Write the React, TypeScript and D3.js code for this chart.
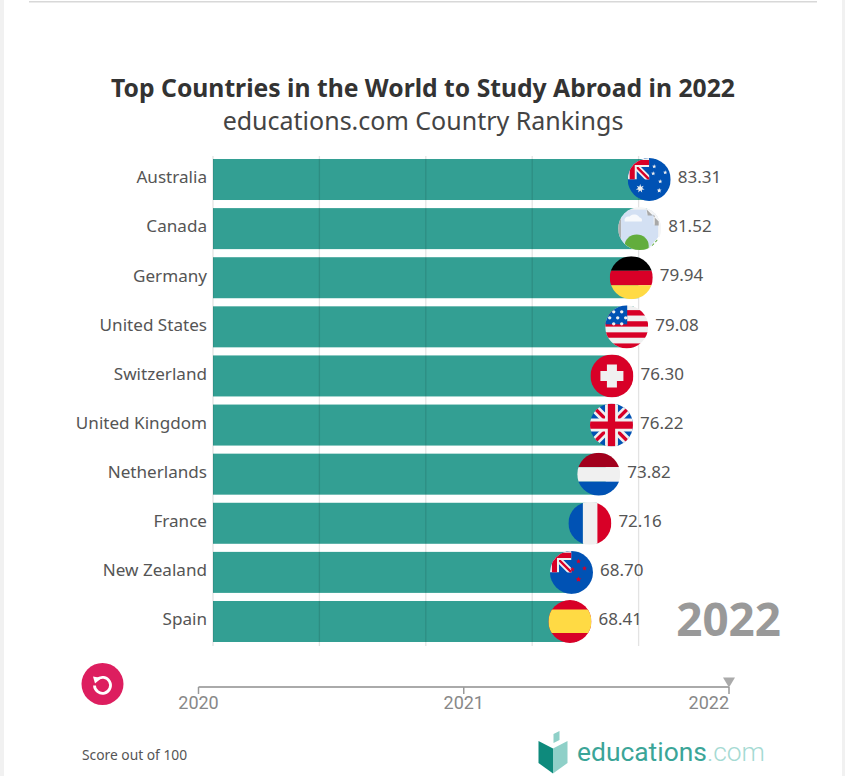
import React from 'react';
import * as d3 from 'd3';

const countries = ['Australia', 'Canada', 'Germany', 'United States', 'Switzerland', 'United Kingdom', 'Netherlands', 'France', 'New Zealand', 'Spain'];
const scores = [83.31, 81.52, 79.94, 79.08, 76.3, 76.22, 73.82, 72.16, 68.7, 68.41];
const gridTicks = [0, 20, 40, 60, 80];
const years = [2020, 2021, 2022];

const FONT = '"Noto Sans", sans-serif';
const R = 21.5;

// flags are drawn in a box of -R..R around the circle centre
// c is where the cross sits inside the box, s sets the stroke widths
const unionJack = (x: number, y: number, w: number, c: number, s: number) => {
  const diagonals = `M${c - w},${c - w}L${c + w},${c + w}M${c + w},${c - w}L${c - w},${c + w}`;
  const cross = `M${c},0V${w}M0,${c}H${w}`;
  // nested svg clips the strokes to the canton
  return (
    <svg x={x} y={y} width={w} height={w}>
      <rect width={w} height={w} fill="#0052b4" />
      <path d={diagonals} stroke="#f0f0f0" strokeWidth={s * 0.2} />
      <path d={diagonals} stroke="#d80027" strokeWidth={s * 0.08} />
      <path d={cross} stroke="#f0f0f0" strokeWidth={s * 0.3} />
      <path d={cross} stroke="#d80027" strokeWidth={s * 0.17} />
    </svg>
  );
};

const star = (cx: number, cy: number, r: number, fill: string, n = 5) => {
  const pts = d3.range(n * 2).map((i) => {
    const a = (i * Math.PI) / n - Math.PI / 2;
    const rr = i % 2 ? r * 0.45 : r;
    return [cx + rr * Math.cos(a), cy + rr * Math.sin(a)].join(',');
  });
  return <polygon key={`${cx}-${cy}`} points={pts.join(' ')} fill={fill} />;
};

const usDots = [[-13, -15], [-5, -15], [-17, -9], [-9, -9], [-1, -9], [-13, -3], [-5, -3]];

const flags: Record<string, React.ReactNode> = {
  Australia: (
    <g>
      <rect x={-R} y={-R} width={2 * R} height={2 * R} fill="#0052b4" />
      {unionJack(-R, -R, R, 4.5, 30)}
      {star(-9, 9, 4.5, '#f0f0f0', 7)}
      {star(5, -13, 2.2, '#f0f0f0')}
      {star(16, -7, 2.2, '#f0f0f0')}
      {star(11, 2, 2.2, '#f0f0f0')}
      {star(4, -6, 2.2, '#f0f0f0')}
      {star(10, 11, 2.5, '#f0f0f0')}
    </g>
  ),
  // the reference shows a broken image placeholder for Canada
  Canada: (
    <g>
      <rect x={-R} y={-R} width={2 * R} height={2 * R} fill="#f4f5f6" />
      <rect x={-R} y={-R} width={3} height={2 * R} fill="#b0b0b0" />
      <rect x={-18.5} y={-19} width={37} height={38} fill="#d3e0f3" />
      <path d="M-15,-7a4,4 0 0 1 5,-5a6,6 0 0 1 10,1a3,3 0 0 1 2,4z" fill="#f7f9fc" />
      <path d="M7,-21H21.5V-4H14V-14H7z" fill="#f4f5f6" />
      <path d="M7,-19L19,-7V-3H15V-13H8z" fill="#a8a8a8" />
      <path d="M-15,17a12,11 0 0 1 24,0v5h-24z" fill="#62ad3d" />
      <path d="M9,22L20,9" stroke="#fff" strokeWidth={3} />
      <path d="M9,21L19,10" stroke="#62ad3d" strokeWidth={1.2} strokeDasharray="3 2" />
    </g>
  ),
  Germany: (
    <g>
      <rect x={-R} y={-R} width={2 * R} height={14.5} fill="#000" />
      <rect x={-R} y={-7} width={2 * R} height={14.5} fill="#d80027" />
      <rect x={-R} y={7.5} width={2 * R} height={14} fill="#ffda44" />
    </g>
  ),
  'United States': (
    <g>
      <rect x={-R} y={-R} width={2 * R} height={2 * R} fill="#f0f0f0" />
      {d3.range(4).map((i) => (
        <rect key={i} x={-R} y={-16.7 + i * 11.1} width={2 * R} height={5.4} fill="#d80027" />
      ))}
      <rect x={-R} y={-R} width={22} height={19} fill="#0052b4" />
      {usDots.map(([cx, cy], i) => (
        <circle key={i} cx={cx} cy={cy} r={1.7} fill="#f0f0f0" />
      ))}
    </g>
  ),
  Switzerland: (
    <g>
      <rect x={-R} y={-R} width={2 * R} height={2 * R} fill="#d80027" />
      <path d="M-5,-11.5h10v6.5h6.5v10h-6.5v6.5h-10v-6.5h-6.5v-10h6.5z" fill="#f0f0f0" />
    </g>
  ),
  'United Kingdom': unionJack(-R, -R, 2 * R, R, 2 * R),
  Netherlands: (
    <g>
      <rect x={-R} y={-R} width={2 * R} height={14.5} fill="#a2001d" />
      <rect x={-R} y={-7} width={2 * R} height={14.5} fill="#f0f0f0" />
      <rect x={-R} y={7.5} width={2 * R} height={14} fill="#0052b4" />
    </g>
  ),
  France: (
    <g>
      <rect x={-R} y={-R} width={14.5} height={2 * R} fill="#0052b4" />
      <rect x={-7} y={-R} width={14.5} height={2 * R} fill="#f0f0f0" />
      <rect x={7.5} y={-R} width={14} height={2 * R} fill="#d80027" />
    </g>
  ),
  'New Zealand': (
    <g>
      <rect x={-R} y={-R} width={2 * R} height={2 * R} fill="#0052b4" />
      {unionJack(-R, -R, R, 4.5, 30)}
      {star(7, -11, 2.6, '#d80027')}
      {star(1, -3, 2.6, '#d80027')}
      {star(13, -4, 2.6, '#d80027')}
      {star(7, 7, 3, '#d80027')}
    </g>
  ),
  Spain: (
    <g>
      <rect x={-R} y={-R} width={2 * R} height={2 * R} fill="#d80027" />
      <rect x={-R} y={-12} width={2 * R} height={23.5} fill="#ffda44" />
    </g>
  ),
};

const App = () => {
  const x = d3.scaleLinear().domain([0, 80]).range([213, 638.6]);
  const y = d3.scaleBand<string>().domain(countries).range([159, 642]).paddingInner(0.165);
  const timeX = d3.scaleLinear().domain([2020, 2022]).range([198.5, 729]);

  return (
    <svg width={845} height={776} style={{ position: 'absolute', left: 0, top: 0 }} fontFamily={FONT}>
      <rect width={845} height={776} fill="#fff" />
      <rect width={4} height={776} fill="#f1f1f1" />
      <rect x={842} width={3} height={776} fill="#f1f1f1" />
      <rect x={29} y={1} width={788} height={1.5} fill="#d8d8d8" />

      <text x={423} y={96.5} textAnchor="middle" fontSize={24.7} fontWeight={700} fill="#333">
        Top Countries in the World to Study Abroad in 2022
      </text>
      <text x={423} y={130} textAnchor="middle" fontSize={25} fill="#444">
        educations.com Country Rankings
      </text>

      {countries.map((c, i) => (
        <g key={c}>
          <rect x={x(0)} y={y(c)} width={x(scores[i]) - x(0)} height={y.bandwidth()} fill="#339f93" />
          <text x={207} y={y(c)! + y.bandwidth() / 2 - 2.2} dy="0.35em" textAnchor="end" fontSize={17.1} fill="#555">
            {c}
          </text>
        </g>
      ))}

      {gridTicks.map((t) => (
        <line key={t} x1={x(t)} x2={x(t)} y1={156} y2={646} stroke="#000" strokeOpacity={0.11} strokeWidth={1.3} />
      ))}

      {countries.map((c, i) => {
        const cx = x(scores[i]) - 7;
        const cy = y(c)! + y.bandwidth() / 2;
        return (
          <g key={c}>
            <clipPath id={`clip-${i}`}>
              <circle r={R} />
            </clipPath>
            <g transform={`translate(${cx},${cy})`} clipPath={`url(#clip-${i})`}>
              {flags[c]}
            </g>
            <text x={cx + 28.5} y={cy - 2.2} dy="0.35em" fontSize={17} fill="#555">
              {scores[i].toFixed(2)}
            </text>
          </g>
        );
      })}

      <text x={781} y={636} textAnchor="end" fontSize={45.8} fontWeight={700} fill="#999">
        2022
      </text>

      <circle cx={102.5} cy={684} r={21} fill="#dd1e5f" />
      <path d="M97,679.5a8,8 0 1 1 -2.5,6" fill="none" stroke="#fff" strokeWidth={2.8} />
      <path d="M93,676.5l8.5,1.5l-6.5,5.5z" fill="#fff" />

      <line x1={timeX(2020)} x2={timeX(2022)} y1={687} y2={687} stroke="#aaa" strokeWidth={2} />
      {years.map((yr) => (
        <g key={yr}>
          <line x1={timeX(yr)} x2={timeX(yr)} y1={687} y2={694} stroke="#999" strokeWidth={1.5} />
          <text x={timeX(yr)} y={709} textAnchor={yr === 2022 ? 'end' : 'middle'} fontFamily="Roboto, sans-serif" fontSize={18} fill="#888">
            {yr}
          </text>
        </g>
      ))}
      <path d={`M${timeX(2022) - 6},677.5h12l-6,10z`} fill="#aaa" />

      <text x={82} y={760} fontSize={13.8} fill="#555">
        Score out of 100
      </text>

      <path d="M538.5,741l14.5,7.5v25l-14.5,-10.5z" fill="#0e8a7c" />
      <path d="M553,748.5l14.5,-7.5v22l-14.5,10.5z" fill="#8fd0c8" />
      <path d="M553.5,734l6,-3v9l-6,3z" fill="#8fd0c8" />
      <text x={577} y={761} fontFamily="Roboto, sans-serif" fontSize={26.4}>
        <tspan fill="#3ba598">educations</tspan>
        <tspan fill="#a5dad3" fontWeight={300}>.com</tspan>
      </text>
    </svg>
  );
};

export default App;
